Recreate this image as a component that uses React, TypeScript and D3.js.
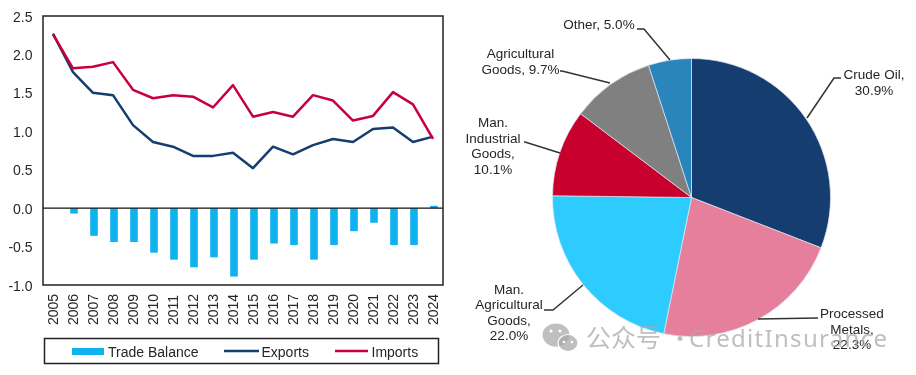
import React from 'react';
import * as d3 from 'd3';

const years = ['2005','2006','2007','2008','2009','2010','2011','2012','2013','2014','2015','2016','2017','2018','2019','2020','2021','2022','2023','2024'];
const exportsSeries = [2.27,1.77,1.50,1.47,1.08,0.86,0.80,0.68,0.68,0.72,0.52,0.80,0.70,0.82,0.90,0.86,1.03,1.05,0.86,0.93];
const importsSeries = [2.26,1.82,1.84,1.90,1.54,1.43,1.47,1.45,1.31,1.60,1.19,1.25,1.19,1.47,1.40,1.14,1.20,1.51,1.35,0.90];
const tradeBalance = [0,-0.07,-0.36,-0.44,-0.44,-0.58,-0.67,-0.77,-0.64,-0.89,-0.67,-0.46,-0.48,-0.67,-0.48,-0.30,-0.19,-0.48,-0.48,0.03];
const yTicks = [2.5,2.0,1.5,1.0,0.5,0.0,-0.5,-1.0];

const pieNames = ['Crude Oil','Processed Metals','Man. Agricultural Goods','Man. Industrial Goods','Agricultural Goods','Other'];
const pieValues = [30.9,22.3,22.0,10.1,9.7,5.0];
const pieColors = ['#163d70','#e57f9b','#2ecbff','#c8002f','#808080','#2a85bd'];
const pieLabelLines = [
  ['Crude Oil,','30.9%'],
  ['Processed','Metals,','22.3%'],
  ['Man.','Agricultural','Goods,','22.0%'],
  ['Man.','Industrial','Goods,','10.1%'],
  ['Agricultural','Goods, 9.7%'],
  ['Other, 5.0%'],
];
const labelCenters = [874,852,509,493,520.5,599];
const labelBaselines = [79,318,293.5,127,58,29];
const leaderPaths: [number,number][][] = [
  [[807,118],[834,78],[841,78]],
  [[758,319],[818,318]],
  [[583,285],[553,310],[544,310]],
  [[560,153],[525,142],[524,142]],
  [[610,83],[562,71],[560,71]],
  [[670,60],[644,29],[637,29]],
];

const FONT = '"Liberation Sans", Arial, sans-serif';
const TEXT = '#262626';

export default function App() {
  const left = 43, right = 443, top = 16, bottom = 285;
  const x = d3.scaleBand<string>().domain(years).range([left, right]);
  const y = d3.scaleLinear().domain([-1, 2.5]).range([bottom, top]);
  const cx = (d: string) => (x(d) as number) + x.bandwidth() / 2;
  const line = d3.line<number>().x((_, i) => cx(years[i])).y(v => y(v));

  const pieCx = 691.5, pieCy = 197.5, pieR = 139;
  const arcs = d3.pie<number>().sort(null)(pieValues);
  const arc = d3.arc<d3.PieArcDatum<number>>().innerRadius(0).outerRadius(pieR);
  const leader = d3.line();

  return (
    <svg width={916} height={375} style={{ position: 'absolute', left: 0, top: 0, background: '#fff' }} fontFamily={FONT}>
      <defs>
        <filter id="soft" x="0" y="0" width="916" height="375" filterUnits="userSpaceOnUse" primitiveUnits="userSpaceOnUse">
          <feGaussianBlur stdDeviation="0.5" />
        </filter>
      </defs>
      <g filter="url(#soft)">
        {tradeBalance.map((v, i) => (
          <rect key={years[i]} x={cx(years[i]) - 3.8 + 1} width={7.6} y={Math.min(y(v), y(0))} height={Math.abs(y(v) - y(0))} fill="#0db2ee" />
        ))}
        <line x1={left} x2={right} y1={y(0)} y2={y(0)} stroke="#111" strokeWidth={1.1} />
        <path d={line(exportsSeries) as string} fill="none" stroke="#163d70" strokeWidth={2.5} strokeLinejoin="round" />
        <path d={line(importsSeries) as string} fill="none" stroke="#c8003c" strokeWidth={2.5} strokeLinejoin="round" />
        <rect x={left} y={top} width={right - left} height={bottom - top} fill="none" stroke="#222" strokeWidth={1.5} />
        {yTicks.map(t => (
          <text key={t} x={32.5} y={y(t) + 5.5} textAnchor="end" fontSize={14} fill={TEXT}>{t.toFixed(1)}</text>
        ))}
        {years.map(yr => (
          <text key={yr} transform={`translate(${cx(yr) + 5},325) rotate(-90)`} fontSize={14} fill={TEXT}>{yr}</text>
        ))}
        <rect x={44.5} y={338.5} width={394} height={25} fill="none" stroke="#222" strokeWidth={1.5} />
        <rect x={72} y={348} width={32} height={7} fill="#0db2ee" />
        <text x={108} y={356.5} fontSize={14} fill={TEXT}>Trade Balance</text>
        <line x1={224} x2={259} y1={351} y2={351} stroke="#163d70" strokeWidth={2.5} />
        <text x={261.5} y={356.5} fontSize={14} fill={TEXT}>Exports</text>
        <line x1={335} x2={368} y1={351} y2={351} stroke="#c8003c" strokeWidth={2.5} />
        <text x={371.5} y={356.5} fontSize={14} fill={TEXT}>Imports</text>

        <g transform={`translate(${pieCx},${pieCy})`}>
          {arcs.map((a, i) => (
            <path key={pieNames[i]} d={arc(a) as string} fill={pieColors[i]} stroke="#dfe8f0" strokeWidth={0.7} />
          ))}
        </g>
        {leaderPaths.map((p, i) => (
          <path key={i} d={leader(p) as string} fill="none" stroke="#333" strokeWidth={1.5} />
        ))}
        {pieLabelLines.map((lines, i) => (
          <text key={i} fontSize={13.5} fill={TEXT} textAnchor="middle">
            {lines.map((l, j) => (
              <tspan key={j} x={labelCenters[i]} y={labelBaselines[i] + j * 15.5}>{l}</tspan>
            ))}
          </text>
        ))}
      </g>
      <g fill="#a9a9a9" fillOpacity={0.75}>
        <ellipse cx={556} cy={335} rx={13.5} ry={11.5} />
        <ellipse cx={568} cy={343} rx={10} ry={8.5} stroke="#fff" strokeWidth={1.2} />
        <circle cx={551} cy={331} r={1.6} fill="#fff" fillOpacity={1} />
        <circle cx={560} cy={331} r={1.6} fill="#fff" fillOpacity={1} />
        <circle cx={564} cy={342} r={1.3} fill="#fff" fillOpacity={1} />
        <circle cx={572} cy={342} r={1.3} fill="#fff" fillOpacity={1} />
        <text x={586} y={347} fontFamily='"Noto Sans CJK SC", sans-serif' fontSize={25}>公众号</text>
        <text x={668} y={347} fontSize={24} fontFamily='"Noto Sans CJK SC", sans-serif'>·</text>
        <text x={689} y={347} fontSize={24} letterSpacing={1.3} fontFamily='"Noto Sans", sans-serif'>CreditInsurance</text>
      </g>
    </svg>
  );
}
